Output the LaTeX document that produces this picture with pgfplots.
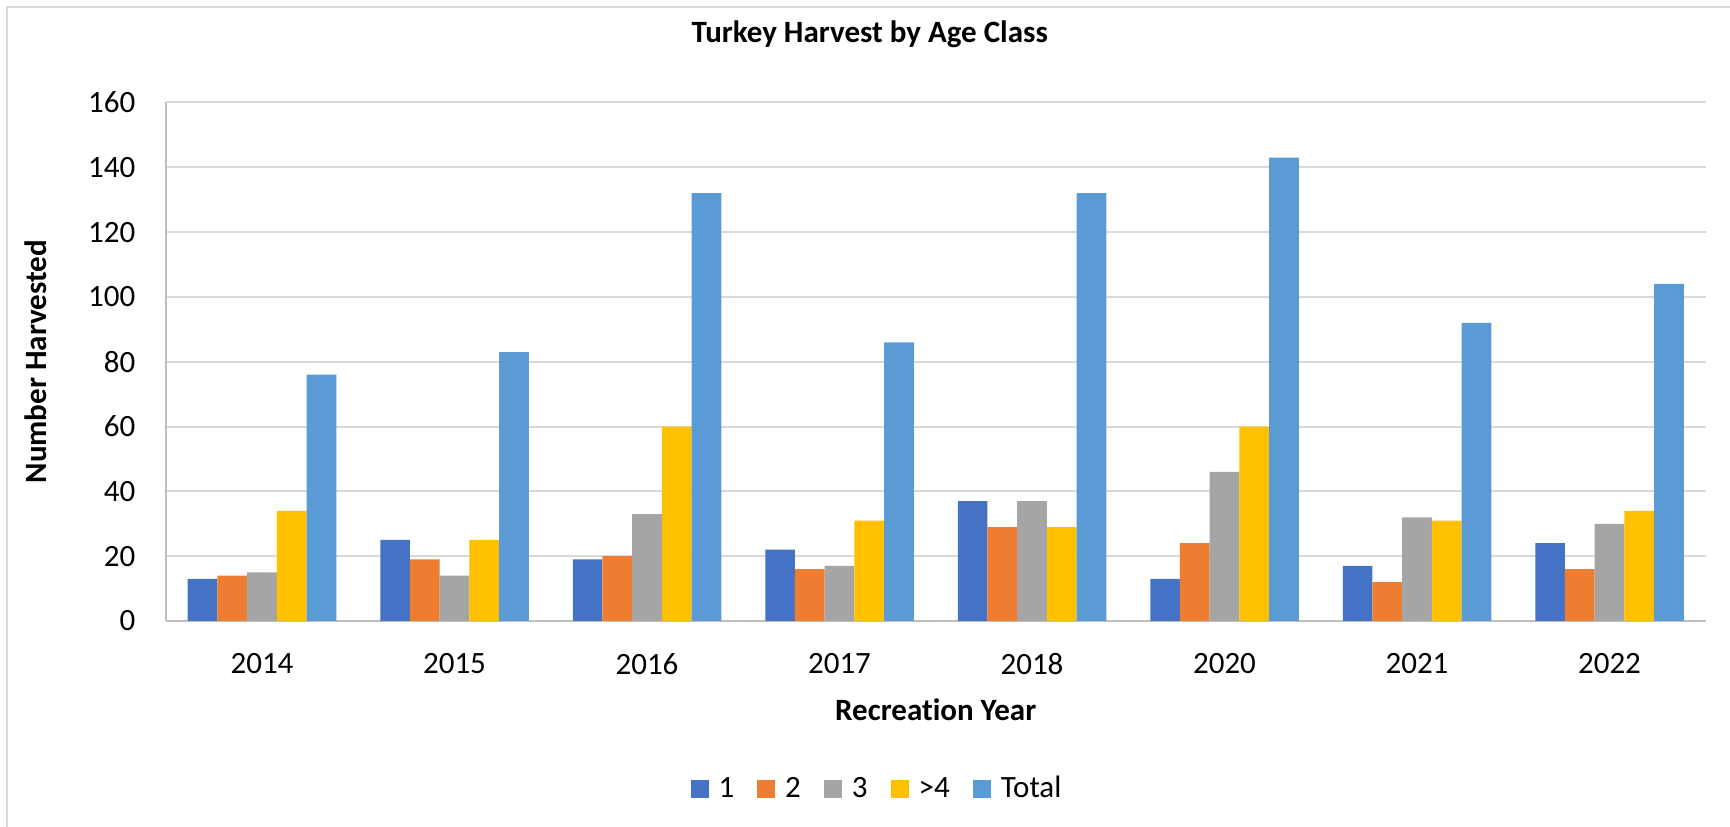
\documentclass[border=0pt]{standalone}
\usepackage{fontspec}
\setmainfont{Carlito}[Ligatures=NoCommon]
\usepackage{pgfplots}
\pgfplotsset{compat=1.18}
\usepackage{pgfplotstable}

\definecolor{cA}{HTML}{4472C4}
\definecolor{cB}{HTML}{ED7D31}
\definecolor{cC}{HTML}{A5A5A5}
\definecolor{cD}{HTML}{FFC000}
\definecolor{cT}{HTML}{5B9BD5}
\definecolor{gridc}{HTML}{D9D9D9}
\definecolor{axc}{HTML}{BFBFBF}

\pgfplotstableread{
x a b c d t
0 13 14 15 34 76
1 25 19 14 25 83
2 19 20 33 60 132
3 22 16 17 31 86
4 37 29 37 29 132
5 13 24 46 60 143
6 17 12 32 31 92
7 24 16 30 34 104
}\data

\pgfplotsset{sqlegend/.style={legend image code/.code={\fill[##1] (0pt,-3.6pt) rectangle (7.2pt,3.6pt);}}}

\newcommand{\lf}{\fontsize{12.4}{14.5}\selectfont}

\begin{document}
\begin{tikzpicture}
\begin{axis}[
  scale only axis,
  width=616pt, height=207.4pt,
  ybar=0pt, bar width=11.88pt,
  xmin=-0.5, xmax=7.5, ymin=0, ymax=160,
  ytick={0,20,...,160},
  xtick={0,...,7},
  xticklabels={2014,2015,2016,2017,2018,2020,2021,2022},
  /pgf/number format/assume math mode=true,
  tick style={draw=none},
  major tick length=0pt,
  axis x line*=bottom, axis y line*=left,
  axis line style={-, draw=axc, line width=0.8pt},
  ymajorgrids, grid style={draw=gridc, line width=0.8pt},
  ticklabel style={font=\lf, inner sep=0pt},
  xticklabel shift=12.8pt,
  yticklabel shift=12pt,
  title={Turkey Harvest by Age Class},
  title style={at={(axis description cs:0.4571,1.0864)}, anchor=base, font=\bfseries\lf, inner sep=0pt},
  xlabel={Recreation Year},
  xlabel style={at={(axis description cs:0.5,-0.191)}, anchor=base, font=\bfseries\lf, inner sep=0pt},
  ylabel={Number Harvested},
  ylabel style={at={(axis description cs:-0.0842,0.5)}, anchor=center, font=\bfseries\lf, inner sep=0pt},
  legend columns=-1,
  legend style={draw=none, fill=none, at={(axis description cs:0.4612,-0.324)}, anchor=center, font=\lf,
    nodes={inner sep=0pt},
    /tikz/every odd column/.append style={column sep=4pt},
    /tikz/every even column/.append style={column sep=9.2pt}},
]
\addplot[fill=cA, draw=none, sqlegend] table[x=x, y=a] {\data};
\addplot[fill=cB, draw=none, sqlegend] table[x=x, y=b] {\data};
\addplot[fill=cC, draw=none, sqlegend] table[x=x, y=c] {\data};
\addplot[fill=cD, draw=none, sqlegend] table[x=x, y=d] {\data};
\addplot[fill=cT, draw=none, sqlegend] table[x=x, y=t] {\data};
\legend{1,2,3,{>4},Total}
\coordinate (bl) at (rel axis cs:0,0);
\end{axis}
\pgfresetboundingbox
\path[use as bounding box] ([shift={(-66.3pt,-82.4pt)}]bl) rectangle ([shift={(625.7pt,248.4pt)}]bl);
\draw[gridc, line width=0.8pt] ([shift={(-63.5pt,-82.4pt)}]bl) -- ([shift={(-63.5pt,245.6pt)}]bl) -- ([shift={(625.7pt,245.6pt)}]bl);
\end{tikzpicture}
\end{document}
